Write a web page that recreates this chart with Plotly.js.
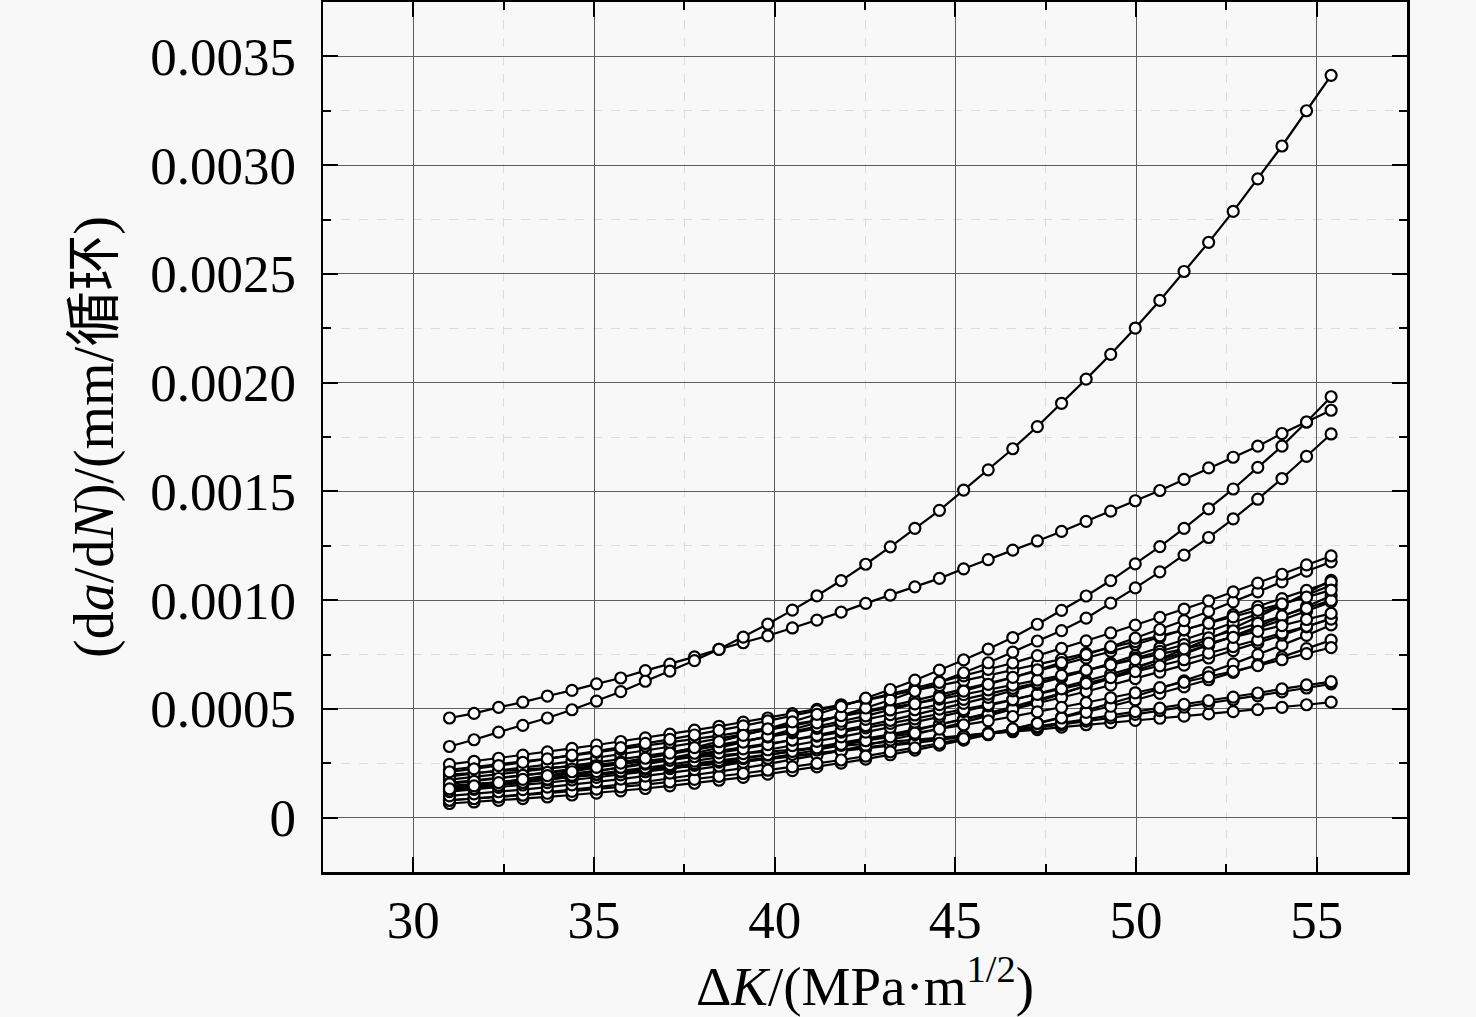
<!DOCTYPE html>
<html>
<head>
<meta charset="utf-8">
<script src="https://cdn.plot.ly/plotly-3.0.1.min.js"></script>
<style>
  html, body { margin: 0; padding: 0; background: #f8f8f8; }
  #chart { width: 1476px; height: 1017px; }
</style>
</head>
<body>
<div id="chart"></div>
<script>
  // ΔK, MPa·m^1/2 (same x for all specimens)
  var deltaK = [31.0, 31.68, 32.36, 33.03, 33.71, 34.39, 35.07, 35.74, 36.42, 37.10,
    37.78, 38.46, 39.13, 39.81, 40.49, 41.17, 41.84, 42.52, 43.20, 43.88, 44.56, 45.23,
    45.91, 46.59, 47.27, 47.94, 48.62, 49.30, 49.98, 50.66, 51.33, 52.01, 52.69, 53.37,
    54.04, 54.72, 55.40];

  // da/dN, mm/cycle
  var rateA = [3.27e-4, 3.58e-4, 3.93e-4, 4.24e-4, 4.58e-4, 4.96e-4, 5.36e-4, 5.79e-4, 6.27e-4, 6.74e-4, 7.22e-4, 7.74e-4, 8.30e-4, 8.90e-4, 9.54e-4, 10.20e-4, 10.90e-4, 11.65e-4, 12.45e-4, 13.30e-4, 14.13e-4, 15.06e-4, 15.99e-4, 16.96e-4, 17.98e-4, 19.05e-4, 20.16e-4, 21.30e-4, 22.51e-4, 23.78e-4, 25.11e-4, 26.45e-4, 27.87e-4, 29.37e-4, 30.88e-4, 32.50e-4, 34.13e-4];
  var rateB = [4.58e-4, 4.79e-4, 5.07e-4, 5.31e-4, 5.59e-4, 5.85e-4, 6.15e-4, 6.42e-4, 6.76e-4, 7.06e-4, 7.39e-4, 7.74e-4, 8.04e-4, 8.36e-4, 8.72e-4, 9.08e-4, 9.45e-4, 9.85e-4, 10.23e-4, 10.61e-4, 11.00e-4, 11.44e-4, 11.86e-4, 12.30e-4, 12.72e-4, 13.16e-4, 13.62e-4, 14.09e-4, 14.57e-4, 15.04e-4, 15.55e-4, 16.08e-4, 16.57e-4, 17.08e-4, 17.66e-4, 18.19e-4, 18.73e-4];
  var rateC = [1.32e-4, 1.46e-4, 1.61e-4, 1.76e-4, 1.93e-4, 2.11e-4, 2.31e-4, 2.51e-4, 2.73e-4, 2.97e-4, 3.22e-4, 3.49e-4, 3.78e-4, 4.08e-4, 4.40e-4, 4.75e-4, 5.10e-4, 5.49e-4, 5.89e-4, 6.32e-4, 6.78e-4, 7.25e-4, 7.75e-4, 8.28e-4, 8.89e-4, 9.53e-4, 10.19e-4, 10.90e-4, 11.67e-4, 12.46e-4, 13.30e-4, 14.20e-4, 15.11e-4, 16.10e-4, 17.08e-4, 18.19e-4, 19.35e-4];
  var rateD = [1.22e-4, 1.34e-4, 1.48e-4, 1.62e-4, 1.77e-4, 1.94e-4, 2.12e-4, 2.31e-4, 2.51e-4, 2.73e-4, 2.96e-4, 3.21e-4, 3.47e-4, 3.75e-4, 4.05e-4, 4.36e-4, 4.69e-4, 5.04e-4, 5.41e-4, 5.81e-4, 6.22e-4, 6.66e-4, 7.12e-4, 7.61e-4, 8.12e-4, 8.60e-4, 9.17e-4, 9.86e-4, 10.56e-4, 11.30e-4, 12.07e-4, 12.88e-4, 13.74e-4, 14.64e-4, 15.59e-4, 16.61e-4, 17.64e-4];
  var rateE = [2.10e-4, 2.24e-4, 2.39e-4, 2.54e-4, 2.70e-4, 2.87e-4, 3.04e-4, 3.22e-4, 3.41e-4, 3.60e-4, 3.80e-4, 4.01e-4, 4.22e-4, 4.45e-4, 4.68e-4, 4.92e-4, 5.16e-4, 5.42e-4, 5.68e-4, 5.96e-4, 6.24e-4, 6.52e-4, 6.82e-4, 7.11e-4, 7.45e-4, 7.78e-4, 8.13e-4, 8.49e-4, 8.85e-4, 9.21e-4, 9.59e-4, 9.97e-4, 10.38e-4, 10.78e-4, 11.19e-4, 11.62e-4, 12.03e-4];
  var rateF = [1.55e-4, 1.67e-4, 1.80e-4, 1.94e-4, 2.08e-4, 2.23e-4, 2.39e-4, 2.55e-4, 2.72e-4, 2.91e-4, 3.10e-4, 3.30e-4, 3.50e-4, 3.72e-4, 3.95e-4, 4.18e-4, 4.43e-4, 4.68e-4, 4.95e-4, 5.23e-4, 5.52e-4, 5.82e-4, 6.13e-4, 6.45e-4, 6.79e-4, 7.13e-4, 7.49e-4, 7.86e-4, 8.25e-4, 8.65e-4, 9.06e-4, 9.48e-4, 9.92e-4, 10.38e-4, 10.84e-4, 11.33e-4, 11.76e-4];
  var rateG1 = [2.45e-4, 2.59e-4, 2.73e-4, 2.87e-4, 3.02e-4, 3.18e-4, 3.34e-4, 3.50e-4, 3.67e-4, 3.84e-4, 4.02e-4, 4.20e-4, 4.39e-4, 4.58e-4, 4.78e-4, 4.98e-4, 5.19e-4, 5.40e-4, 5.62e-4, 5.84e-4, 6.07e-4, 6.30e-4, 6.54e-4, 6.78e-4, 7.03e-4, 7.29e-4, 7.55e-4, 7.81e-4, 8.09e-4, 8.36e-4, 8.64e-4, 8.93e-4, 9.23e-4, 9.53e-4, 9.83e-4, 10.14e-4, 10.46e-4];
  var rateG2 = [2.20e-4, 2.32e-4, 2.45e-4, 2.58e-4, 2.71e-4, 2.85e-4, 3.00e-4, 3.14e-4, 3.29e-4, 3.45e-4, 3.61e-4, 3.77e-4, 3.94e-4, 4.11e-4, 4.29e-4, 4.47e-4, 4.66e-4, 4.85e-4, 5.04e-4, 5.24e-4, 5.45e-4, 5.66e-4, 5.87e-4, 6.09e-4, 6.32e-4, 6.54e-4, 6.78e-4, 7.02e-4, 7.26e-4, 7.51e-4, 7.76e-4, 8.02e-4, 8.29e-4, 8.56e-4, 8.83e-4, 9.11e-4, 9.39e-4];
  var rateG3 = [1.90e-4, 2.03e-4, 2.16e-4, 2.30e-4, 2.44e-4, 2.59e-4, 2.75e-4, 2.91e-4, 3.08e-4, 3.26e-4, 3.44e-4, 3.63e-4, 3.82e-4, 4.02e-4, 4.23e-4, 4.45e-4, 4.67e-4, 4.90e-4, 5.14e-4, 5.39e-4, 5.64e-4, 5.90e-4, 6.17e-4, 6.45e-4, 6.74e-4, 7.03e-4, 7.33e-4, 7.64e-4, 7.96e-4, 8.29e-4, 8.63e-4, 8.97e-4, 9.33e-4, 9.70e-4, 10.07e-4, 10.45e-4, 10.84e-4];
  var rateG4 = [1.75e-4, 1.87e-4, 1.99e-4, 2.12e-4, 2.25e-4, 2.39e-4, 2.53e-4, 2.68e-4, 2.84e-4, 3.00e-4, 3.17e-4, 3.34e-4, 3.52e-4, 3.71e-4, 3.90e-4, 4.10e-4, 4.30e-4, 4.52e-4, 4.74e-4, 4.96e-4, 5.20e-4, 5.44e-4, 5.68e-4, 5.94e-4, 6.20e-4, 6.47e-4, 6.75e-4, 7.04e-4, 7.33e-4, 7.64e-4, 7.95e-4, 8.26e-4, 8.59e-4, 8.93e-4, 9.27e-4, 9.62e-4, 9.99e-4];
  var rateG5 = [1.40e-4, 1.51e-4, 1.63e-4, 1.75e-4, 1.88e-4, 2.01e-4, 2.16e-4, 2.30e-4, 2.46e-4, 2.63e-4, 2.80e-4, 2.98e-4, 3.16e-4, 3.36e-4, 3.57e-4, 3.78e-4, 4.00e-4, 4.23e-4, 4.47e-4, 4.72e-4, 4.99e-4, 5.25e-4, 5.53e-4, 5.83e-4, 6.13e-4, 6.44e-4, 6.76e-4, 7.10e-4, 7.45e-4, 7.81e-4, 8.18e-4, 8.56e-4, 8.96e-4, 9.37e-4, 9.79e-4, 10.23e-4, 10.68e-4];
  var rateG6 = [1.60e-4, 1.71e-4, 1.82e-4, 1.94e-4, 2.06e-4, 2.18e-4, 2.32e-4, 2.45e-4, 2.59e-4, 2.74e-4, 2.90e-4, 3.06e-4, 3.22e-4, 3.39e-4, 3.57e-4, 3.75e-4, 3.93e-4, 4.13e-4, 4.33e-4, 4.54e-4, 4.75e-4, 4.97e-4, 5.20e-4, 5.43e-4, 5.67e-4, 5.92e-4, 6.17e-4, 6.44e-4, 6.71e-4, 6.98e-4, 7.26e-4, 7.56e-4, 7.86e-4, 8.16e-4, 8.48e-4, 8.80e-4, 9.13e-4];
  var rateG7 = [1.20e-4, 1.30e-4, 1.39e-4, 1.50e-4, 1.61e-4, 1.73e-4, 1.85e-4, 1.97e-4, 2.11e-4, 2.25e-4, 2.40e-4, 2.55e-4, 2.71e-4, 2.88e-4, 3.06e-4, 3.24e-4, 3.43e-4, 3.63e-4, 3.83e-4, 4.05e-4, 4.27e-4, 4.50e-4, 4.74e-4, 4.99e-4, 5.25e-4, 5.52e-4, 5.80e-4, 6.09e-4, 6.39e-4, 6.69e-4, 7.01e-4, 7.34e-4, 7.68e-4, 8.03e-4, 8.39e-4, 8.77e-4, 9.16e-4];
  var rateG8 = [1.00e-4, 1.09e-4, 1.19e-4, 1.29e-4, 1.40e-4, 1.51e-4, 1.64e-4, 1.77e-4, 1.91e-4, 2.05e-4, 2.21e-4, 2.37e-4, 2.54e-4, 2.72e-4, 2.91e-4, 3.11e-4, 3.32e-4, 3.54e-4, 3.77e-4, 4.01e-4, 4.27e-4, 4.53e-4, 4.81e-4, 5.10e-4, 5.41e-4, 5.72e-4, 6.05e-4, 6.40e-4, 6.76e-4, 7.13e-4, 7.52e-4, 7.92e-4, 8.35e-4, 8.79e-4, 9.23e-4, 9.71e-4, 10.20e-4];
  var rateG9 = [0.80e-4, 0.87e-4, 0.95e-4, 1.03e-4, 1.12e-4, 1.21e-4, 1.31e-4, 1.41e-4, 1.52e-4, 1.64e-4, 1.76e-4, 1.90e-4, 2.03e-4, 2.18e-4, 2.33e-4, 2.49e-4, 2.65e-4, 2.83e-4, 3.02e-4, 3.21e-4, 3.42e-4, 3.63e-4, 3.85e-4, 4.08e-4, 4.33e-4, 4.58e-4, 4.84e-4, 5.12e-4, 5.41e-4, 5.71e-4, 6.01e-4, 6.34e-4, 6.68e-4, 7.03e-4, 7.39e-4, 7.77e-4, 8.16e-4];
  var rateG10 = [0.80e-4, 0.88e-4, 0.97e-4, 1.06e-4, 1.17e-4, 1.28e-4, 1.39e-4, 1.52e-4, 1.65e-4, 1.80e-4, 1.95e-4, 2.11e-4, 2.28e-4, 2.47e-4, 2.66e-4, 2.87e-4, 3.08e-4, 3.32e-4, 3.56e-4, 3.82e-4, 4.10e-4, 4.38e-4, 4.68e-4, 5.00e-4, 5.34e-4, 5.69e-4, 6.06e-4, 6.45e-4, 6.86e-4, 7.29e-4, 7.74e-4, 8.21e-4, 8.71e-4, 9.22e-4, 9.75e-4, 10.32e-4, 10.91e-4];
  var rateG11 = [0.65e-4, 0.72e-4, 0.79e-4, 0.87e-4, 0.95e-4, 1.04e-4, 1.13e-4, 1.23e-4, 1.34e-4, 1.46e-4, 1.58e-4, 1.72e-4, 1.85e-4, 2.00e-4, 2.16e-4, 2.33e-4, 2.51e-4, 2.69e-4, 2.89e-4, 3.10e-4, 3.33e-4, 3.56e-4, 3.81e-4, 4.07e-4, 4.34e-4, 4.62e-4, 4.93e-4, 5.24e-4, 5.58e-4, 5.93e-4, 6.29e-4, 6.67e-4, 7.07e-4, 7.49e-4, 7.93e-4, 8.38e-4, 8.86e-4];
  var rateG12 = [1.37e-4, 1.46e-4, 1.56e-4, 1.66e-4, 1.76e-4, 1.87e-4, 1.98e-4, 2.10e-4, 2.22e-4, 2.35e-4, 2.48e-4, 2.62e-4, 2.76e-4, 2.90e-4, 3.05e-4, 3.21e-4, 3.37e-4, 3.54e-4, 3.71e-4, 3.89e-4, 4.07e-4, 4.26e-4, 4.45e-4, 4.65e-4, 4.86e-4, 5.07e-4, 5.29e-4, 5.51e-4, 5.74e-4, 5.98e-4, 6.22e-4, 6.47e-4, 6.73e-4, 6.99e-4, 7.26e-4, 7.54e-4, 7.82e-4];
  var rateG13 = [1.30e-4, 1.40e-4, 1.51e-4, 1.62e-4, 1.74e-4, 1.87e-4, 2.00e-4, 2.14e-4, 2.29e-4, 2.44e-4, 2.60e-4, 2.77e-4, 2.94e-4, 3.12e-4, 3.31e-4, 3.51e-4, 3.71e-4, 3.93e-4, 4.15e-4, 4.39e-4, 4.63e-4, 4.88e-4, 5.14e-4, 5.41e-4, 5.69e-4, 5.98e-4, 6.28e-4, 6.59e-4, 6.92e-4, 7.25e-4, 7.59e-4, 7.95e-4, 8.32e-4, 8.70e-4, 9.09e-4, 9.50e-4, 9.92e-4];
  var rateL1 = [1.46e-4, 1.54e-4, 1.63e-4, 1.71e-4, 1.80e-4, 1.89e-4, 1.99e-4, 2.08e-4, 2.18e-4, 2.29e-4, 2.39e-4, 2.50e-4, 2.61e-4, 2.73e-4, 2.85e-4, 2.97e-4, 3.09e-4, 3.22e-4, 3.35e-4, 3.48e-4, 3.62e-4, 3.75e-4, 3.90e-4, 4.04e-4, 4.19e-4, 4.34e-4, 4.52e-4, 4.70e-4, 4.87e-4, 5.03e-4, 5.21e-4, 5.38e-4, 5.54e-4, 5.73e-4, 5.92e-4, 6.10e-4, 6.25e-4];
  var rateL2 = [1.44e-4, 1.52e-4, 1.60e-4, 1.69e-4, 1.78e-4, 1.87e-4, 1.96e-4, 2.06e-4, 2.15e-4, 2.26e-4, 2.36e-4, 2.47e-4, 2.58e-4, 2.69e-4, 2.81e-4, 2.93e-4, 3.05e-4, 3.17e-4, 3.30e-4, 3.43e-4, 3.57e-4, 3.70e-4, 3.84e-4, 3.99e-4, 4.14e-4, 4.28e-4, 4.44e-4, 4.59e-4, 4.75e-4, 4.92e-4, 5.08e-4, 5.25e-4, 5.42e-4, 5.60e-4, 5.78e-4, 5.96e-4, 6.15e-4];
  var rateL3 = [1.98e-4, 2.05e-4, 2.13e-4, 2.21e-4, 2.28e-4, 2.36e-4, 2.44e-4, 2.52e-4, 2.60e-4, 2.69e-4, 2.77e-4, 2.86e-4, 2.94e-4, 3.03e-4, 3.12e-4, 3.21e-4, 3.30e-4, 3.39e-4, 3.48e-4, 3.57e-4, 3.67e-4, 3.76e-4, 3.86e-4, 3.95e-4, 4.05e-4, 4.16e-4, 4.27e-4, 4.37e-4, 4.47e-4, 4.57e-4, 4.67e-4, 4.77e-4, 4.87e-4, 4.97e-4, 5.07e-4, 5.19e-4, 5.31e-4];

  var xTickVals = [30, 35, 40, 45, 50, 55];
  var xTickText = ["30", "35", "40", "45", "50", "55"];
  var xMinorVals = [32.5, 37.5, 42.5, 47.5, 52.5];
  var yTickVals = [0, 0.0005, 0.0010, 0.0015, 0.0020, 0.0025, 0.0030, 0.0035];
  var yTickText = ["0", "0.0005", "0.0010", "0.0015", "0.0020", "0.0025", "0.0030", "0.0035"];
  var yMinorVals = [0.00025, 0.00075, 0.00125, 0.00175, 0.00225, 0.00275, 0.00325];

  var curves = [
    rateL3, rateL2, rateL1, rateG11, rateG10, rateG9, rateG8, rateG7, rateG12,
    rateG13, rateG6, rateG5, rateG4, rateG3, rateG2, rateG1, rateF, rateE,
    rateD, rateC, rateB, rateA
  ];

  var FONT = "'Liberation Serif', 'Times New Roman', 'Noto Sans CJK SC', serif";

  var traces = curves.map(function (y) {
    return {
      x: deltaK,
      y: y,
      type: "scatter",
      mode: "lines+markers",
      line: { color: "#000000", width: 2.2 },
      marker: {
        symbol: "circle",
        size: 11,
        color: "#ffffff",
        line: { color: "#000000", width: 2.2 }
      },
      showlegend: false,
      hoverinfo: "x+y"
    };
  });

  function axisBase() {
    return {
      showline: true,
      linecolor: "#000000",
      linewidth: 2.5,
      mirror: "allticks",
      ticks: "inside",
      ticklen: 15,
      tickwidth: 2,
      tickcolor: "#000000",
      showgrid: true,
      gridcolor: "#5e5e5e",
      gridwidth: 1,
      zeroline: false,
      tickmode: "array",
      tickfont: { family: FONT, size: 53, color: "#000000" }
    };
  }

  function minorBase(vals) {
    return {
      tickmode: "array",
      tickvals: vals,
      ticks: "inside",
      ticklen: 8,
      tickwidth: 2,
      tickcolor: "#000000",
      showgrid: true,
      gridcolor: "#dcdcdc",
      gridwidth: 1,
      griddash: "dash"
    };
  }

  var xaxis = axisBase();
  xaxis.range = [27.5, 57.5];
  xaxis.tickvals = xTickVals;
  xaxis.ticktext = xTickText;
  xaxis.ticklabelstandoff = 0;
  xaxis.minor = minorBase(xMinorVals);
  xaxis.title = {
    text: "Δ<i>K</i>/(MPa·m<sup>1/2</sup>)",
    font: { family: FONT, size: 55, color: "#000000" },
    standoff: 11
  };

  var yaxis = axisBase();
  yaxis.range = [-0.00025, 0.00375];
  yaxis.tickvals = yTickVals;
  yaxis.ticktext = yTickText;
  yaxis.ticklabelstandoff = 14;
  yaxis.minor = minorBase(yMinorVals);
  yaxis.title = {
    text: "(d<i>a</i>/d<i>N</i>)/(mm/循环)",
    font: { family: FONT, size: 56, color: "#000000" },
    standoff: 19
  };

  var layout = {
    width: 1476,
    height: 1017,
    margin: { l: 323, r: 69, t: 2, b: 145 },
    paper_bgcolor: "#f8f8f8",
    plot_bgcolor: "#f8f8f8",
    font: { family: FONT, color: "#000000" },
    showlegend: false,
    xaxis: xaxis,
    yaxis: yaxis
  };

  Plotly.newPlot("chart", traces, layout, { staticPlot: true, displayModeBar: false });
</script>
</body>
</html>
